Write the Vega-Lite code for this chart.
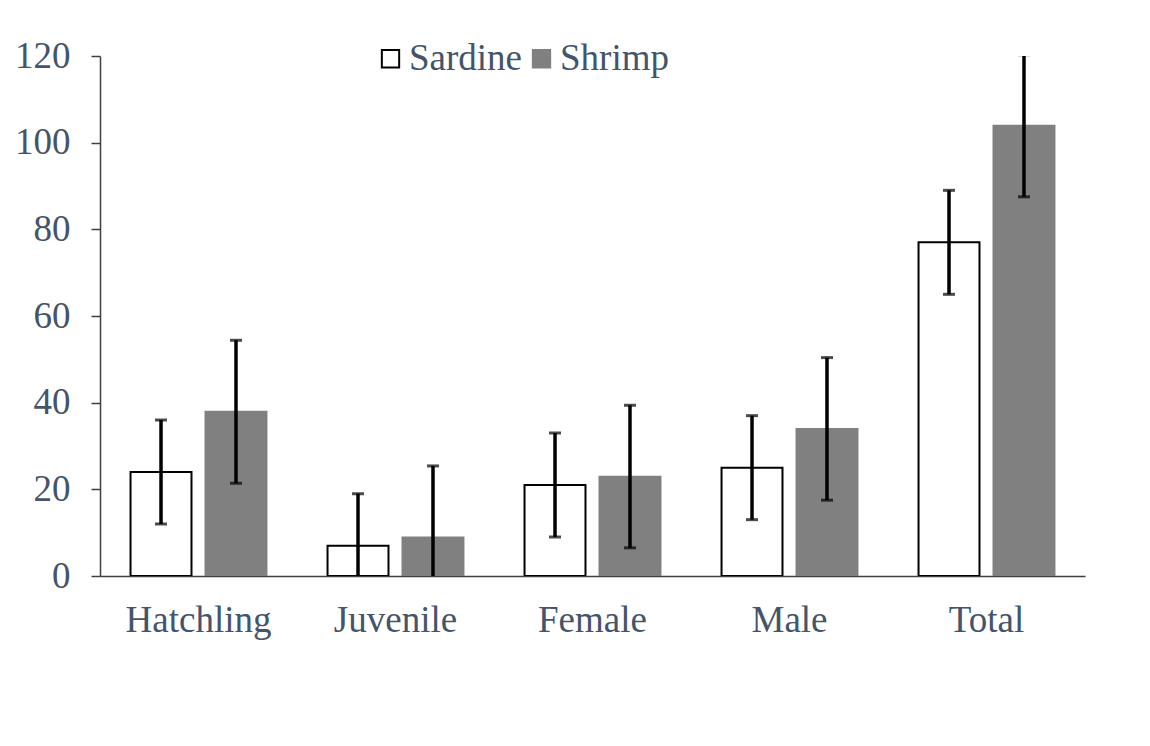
{
  "$schema": "https://vega.github.io/schema/vega-lite/v6.json",
  "autosize": {"type": "none"},
  "padding": {"left": 100, "top": 56, "right": 65, "bottom": 170},
  "width": 985,
  "height": 520,
  "background": "white",
  "config": {
    "view": {"stroke": null},
    "font": "Liberation Serif",
    "axis": {"labelFont": "Liberation Serif", "labelColor": "#44546A", "labelFontSize": 37, "grid": false, "title": null, "domainColor": "#404040", "tickColor": "#404040", "domainWidth": 1.5, "tickWidth": 1.5},
    "legend": {"labelFont": "Liberation Serif", "labelColor": "#44546A", "labelFontSize": 37}
  },
  "data": {
    "values": [
      {"stage": "Hatchling", "diet": "Sardine", "value": 24, "lo": 12, "hi": 36},
      {"stage": "Hatchling", "diet": "Shrimp", "value": 37.9, "lo": 21.4, "hi": 54.4},
      {"stage": "Juvenile", "diet": "Sardine", "value": 7, "lo": -5, "hi": 19},
      {"stage": "Juvenile", "diet": "Shrimp", "value": 8.9, "lo": -7.6, "hi": 25.4},
      {"stage": "Female", "diet": "Sardine", "value": 21, "lo": 9, "hi": 33},
      {"stage": "Female", "diet": "Shrimp", "value": 22.9, "lo": 6.5, "hi": 39.4},
      {"stage": "Male", "diet": "Sardine", "value": 25, "lo": 13, "hi": 37},
      {"stage": "Male", "diet": "Shrimp", "value": 33.9, "lo": 17.5, "hi": 50.4},
      {"stage": "Total", "diet": "Sardine", "value": 77, "lo": 65, "hi": 89},
      {"stage": "Total", "diet": "Shrimp", "value": 103.9, "lo": 87.5, "hi": 120.3}
    ]
  },
  "encoding": {
    "x": {
      "field": "stage", "type": "nominal", "sort": null,
      "scale": {"paddingInner": 0.31, "paddingOuter": 0.155},
      "axis": {"labelAngle": 0, "ticks": false, "tickSize": 0, "labelPadding": 26, "labelBaseline": "top"}
    },
    "xOffset": {"field": "diet", "type": "nominal", "scale": {"paddingInner": 0.187, "paddingOuter": 0}}
  },
  "layer": [
    {
      "mark": {"type": "bar", "strokeWidth": 2, "clip": true},
      "encoding": {
        "y": {
          "field": "value", "type": "quantitative",
          "scale": {"domain": [0, 120], "nice": false},
          "axis": {"values": [0, 20, 40, 60, 80, 100, 120], "tickSize": 9, "labelPadding": 21}
        },
        "fill": {
          "field": "diet", "type": "nominal",
          "scale": {"domain": ["Sardine", "Shrimp"], "range": ["white", "#808080"]},
          "legend": {"title": null, "orient": "none", "direction": "horizontal", "legendX": 272, "legendY": -16, "symbolType": "square", "symbolSize": 300, "symbolStrokeWidth": 2, "labelOffset": 0, "columnPadding": 0, "padding": 0}
        },
        "stroke": {
          "field": "diet", "type": "nominal",
          "scale": {"domain": ["Sardine", "Shrimp"], "range": ["black", "#808080"]},
          "legend": {"title": null, "orient": "none", "direction": "horizontal", "legendX": 272, "legendY": -16, "symbolType": "square", "symbolSize": 300, "symbolStrokeWidth": 2, "labelOffset": 0, "columnPadding": 0, "padding": 0}
        }
      }
    },
    {
      "mark": {"type": "rule", "color": "black", "strokeWidth": 3.5, "clip": true},
      "encoding": {
        "y": {"field": "lo", "type": "quantitative"},
        "y2": {"field": "hi"}
      }
    },
    {
      "mark": {"type": "tick", "color": "black", "size": 12, "thickness": 3, "clip": true},
      "encoding": {"y": {"field": "lo", "type": "quantitative"}}
    },
    {
      "mark": {"type": "tick", "color": "black", "size": 12, "thickness": 3, "clip": true},
      "encoding": {"y": {"field": "hi", "type": "quantitative"}}
    }
  ]
}
